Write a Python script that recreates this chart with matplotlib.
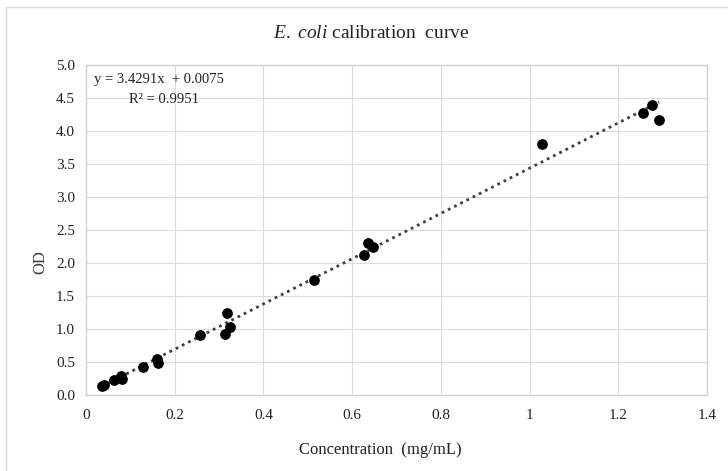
import matplotlib
matplotlib.use("Agg")
import matplotlib.pyplot as plt
import numpy as np
from matplotlib.patches import Rectangle

conc = [0.035, 0.041, 0.064, 0.080, 0.082, 0.129, 0.159, 0.162, 0.257,
        0.313, 0.319, 0.325, 0.514, 0.627, 0.636, 0.646, 1.029, 1.255,
        1.276, 1.292]
od = [0.13, 0.15, 0.23, 0.29, 0.24, 0.43, 0.55, 0.48, 0.91,
      0.92, 1.25, 1.03, 1.75, 2.12, 2.31, 2.25, 3.81, 4.27,
      4.40, 4.16]
slope = 3.4291
intercept = 0.0075
r2 = 0.9951
xticks = [0, 0.2, 0.4, 0.6, 0.8, 1.0, 1.2, 1.4]
xticklabels = ["0", "0.2", "0.4", "0.6", "0.8", "1", "1.2", "1.4"]
yticks = [0.0, 0.5, 1.0, 1.5, 2.0, 2.5, 3.0, 3.5, 4.0, 4.5, 5.0]

plt.rcParams['font.family'] = ['Liberation Serif', 'DejaVu Serif']
plt.rcParams['mathtext.fontset'] = 'custom'
plt.rcParams['mathtext.rm'] = 'Liberation Serif'
plt.rcParams['mathtext.it'] = 'Liberation Serif:italic'

fig = plt.figure(figsize=(7.28, 4.71), dpi=100)
ax = fig.add_axes([86/728, 1 - 395/471, (707-86)/728, (395-65)/471])

# outer chart border
fig.patches.append(Rectangle((6/728, -0.05), 1.1, 1 - 7/471 + 0.05,
                             transform=fig.transFigure, fill=False,
                             edgecolor='#d9d9d9', linewidth=1))

ax.set_xlim(0, 1.4)
ax.set_ylim(0, 5.0)
ax.set_xticks(xticks)
ax.set_xticklabels(xticklabels)
ax.set_yticks(yticks)
ax.set_yticklabels([f"{v:.1f}" for v in yticks])
ax.grid(True, color='#dcdcdc', linewidth=0.8)
ax.set_axisbelow(True)
for s in ax.spines.values():
    s.set_color('#d0d0d0')
    s.set_linewidth(1)
ax.tick_params(length=0, labelsize=11, colors='#404040', pad=8)
ax.tick_params(axis='x', pad=10)
for lab in ax.get_xticklabels() + ax.get_yticklabels():
    lab.set_color('#222222')

xs = np.array([min(conc), max(conc)])
ax.plot(xs, slope * xs + intercept, linestyle=(0, (1, 1.5)), color='#404040',
        linewidth=2, zorder=2)
ax.scatter(conc, od, s=45, color='black', zorder=3)

ax.text(0.018, 4.78, f"y = {slope}x  + {intercept}", fontsize=10.5, color='#222222',
        ha='left', va='center')
ax.text(0.096, 4.48, f"R² = {r2}", fontsize=10.5, color='#222222',
        ha='left', va='center')

fig.text(371/728, 1 - 33/471, r"$\mathit{E.\ coli}$" + " calibration  curve",
         ha='center', va='center', fontsize=14, color='#222222')
fig.text(380/728, 1 - 450/471, "Concentration  (mg/mL)", ha='center', va='center',
         fontsize=12, color='#222222')
fig.text(40/728, 1 - 262/471, "OD", ha='center', va='center', rotation=90,
         fontsize=12, color='#404040')

fig.savefig("out.png", dpi=100)
